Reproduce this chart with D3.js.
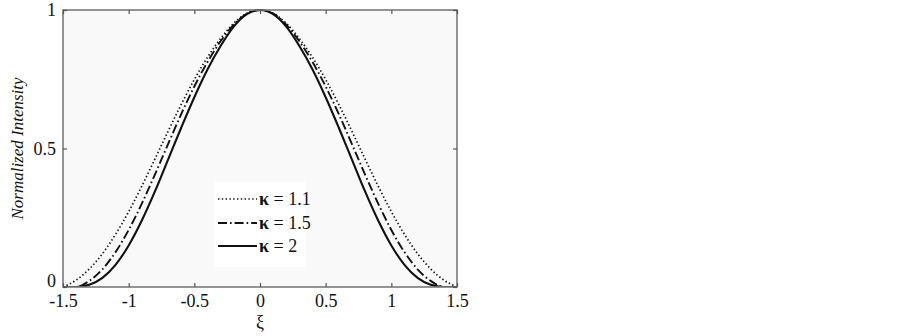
<!DOCTYPE html>
<html><head><meta charset="utf-8">
<script src="https://cdn.jsdelivr.net/npm/d3@7"></script>
<style>body{margin:0;background:#fff}svg{display:block}</style>
</head><body>
<svg id="c" width="903" height="336"></svg>
<script>
const xi = [-1.5,-1.4,-1.3,-1.2,-1.1,-1.0,-0.9,-0.8,-0.7,-0.6,-0.5,-0.4,-0.3,-0.2,-0.1,0,0.1,0.2,0.3,0.4,0.5,0.6,0.7,0.8,0.9,1.0,1.1,1.2,1.3,1.4,1.5];
const k11 = [0,0.025,0.065,0.12,0.19,0.272,0.364,0.462,0.562,0.659,0.749,0.829,0.897,0.952,0.988,1,0.988,0.952,0.897,0.829,0.749,0.659,0.562,0.462,0.364,0.272,0.19,0.12,0.065,0.025,0];
const k15 = [0,0,0.022,0.064,0.126,0.206,0.301,0.406,0.516,0.624,0.724,0.812,0.887,0.947,0.987,1,0.987,0.947,0.887,0.812,0.724,0.624,0.516,0.406,0.301,0.206,0.126,0.064,0.022,0,0];
const k2  = [0,0,0.008,0.033,0.08,0.15,0.24,0.345,0.46,0.575,0.685,0.785,0.87,0.94,0.985,1,0.985,0.94,0.87,0.785,0.685,0.575,0.46,0.345,0.24,0.15,0.08,0.033,0.008,0,0];
const xTicks = [-1.5,-1,-0.5,0,0.5,1,1.5];
const yTicks = [0,0.5,1];
const seriesNames = ["1.1","1.5","2"];

const svg = d3.select("#c");
const L=63,R=457,T=10,B=287;
const x = d3.scaleLinear().domain([-1.5,1.5]).range([L,R]);
const y = d3.scaleLinear().domain([0,1]).range([B,T]);
const font = "'Liberation Serif','Times New Roman',serif";

svg.append("rect").attr("x",L).attr("y",T).attr("width",R-L).attr("height",B-T).attr("fill","#f9f9f9");

const styles = [
  {dash:"1.4,2.4", w:1.7},
  {dash:"9,3,1.6,3", w:1.9},
  {dash:null, w:2.1}
];
const data = [k11,k15,k2];
svg.append("clipPath").attr("id","cp").append("rect").attr("x",L).attr("y",T-3).attr("width",R-L).attr("height",B-T+3);
const line = d3.line().x((d,i)=>x(xi[i])).y(d=>y(d)).curve(d3.curveMonotoneX);

// legend background
svg.append("rect").attr("x",214).attr("y",182).attr("width",92).attr("height",85).attr("fill","#fff");

data.forEach((s,j)=>{
  svg.append("path").datum(s).attr("d",line).attr("fill","none").attr("stroke","#111")
    .attr("stroke-width",styles[j].w).attr("stroke-dasharray",styles[j].dash).attr("clip-path","url(#cp)");
});

// legend
const ly = [199,223,246];
seriesNames.forEach((n,j)=>{
  svg.append("line").attr("x1",218).attr("x2",257).attr("y1",ly[j]).attr("y2",ly[j])
    .attr("stroke","#111").attr("stroke-width",styles[j].w).attr("stroke-dasharray",styles[j].dash);
  const t = svg.append("text").attr("x",259).attr("y",ly[j]+6).attr("font-family",font).attr("font-size",18)
    .attr("fill","#111");
  t.append("tspan").attr("font-weight","bold").text("κ");
  t.append("tspan").text(" = "+n);
});

// frame
svg.append("rect").attr("x",L).attr("y",T).attr("width",R-L).attr("height",B-T).attr("fill","none").attr("stroke","#7a7a7a").attr("stroke-width",1.6);

// axes
const gx = svg.append("g").attr("transform",`translate(0,${B})`).call(d3.axisBottom(x).tickValues(xTicks).tickSize(-4).tickPadding(7).tickFormat(d3.format("")));
const gxt = svg.append("g").attr("transform",`translate(0,${T})`).call(d3.axisTop(x).tickValues(xTicks).tickSize(-4).tickFormat(""));
const gy = svg.append("g").attr("transform",`translate(${L},0)`).call(d3.axisLeft(y).tickValues(yTicks).tickSize(-4).tickPadding(7).tickFormat(d3.format("")));
const gyr = svg.append("g").attr("transform",`translate(${R},0)`).call(d3.axisRight(y).tickValues(yTicks).tickSize(-4).tickFormat(""));
[gx,gxt,gy,gyr].forEach(g=>{
  g.select(".domain").remove();
  g.selectAll(".tick line").attr("stroke","#555").attr("stroke-width",1.2);
  g.selectAll("text").attr("font-family",font).attr("font-size",18).attr("fill","#111");
});
gx.selectAll("text").text(d=>d<0?"-"+Math.abs(d):d);
gy.selectAll("text").filter(d=>d===0).attr("dy","-0.02em");

svg.append("text").attr("x",x(0)).attr("y",328).attr("text-anchor","middle").attr("font-family",font).attr("font-size",18).attr("fill","#111").text("ξ");
svg.append("text").attr("transform",`translate(23,${(T+B)/2}) rotate(-90)`).attr("text-anchor","middle")
  .attr("font-family",font).attr("font-style","italic").attr("font-size",17).attr("fill","#111").text("Normalized Intensity");
</script>
</body></html>
